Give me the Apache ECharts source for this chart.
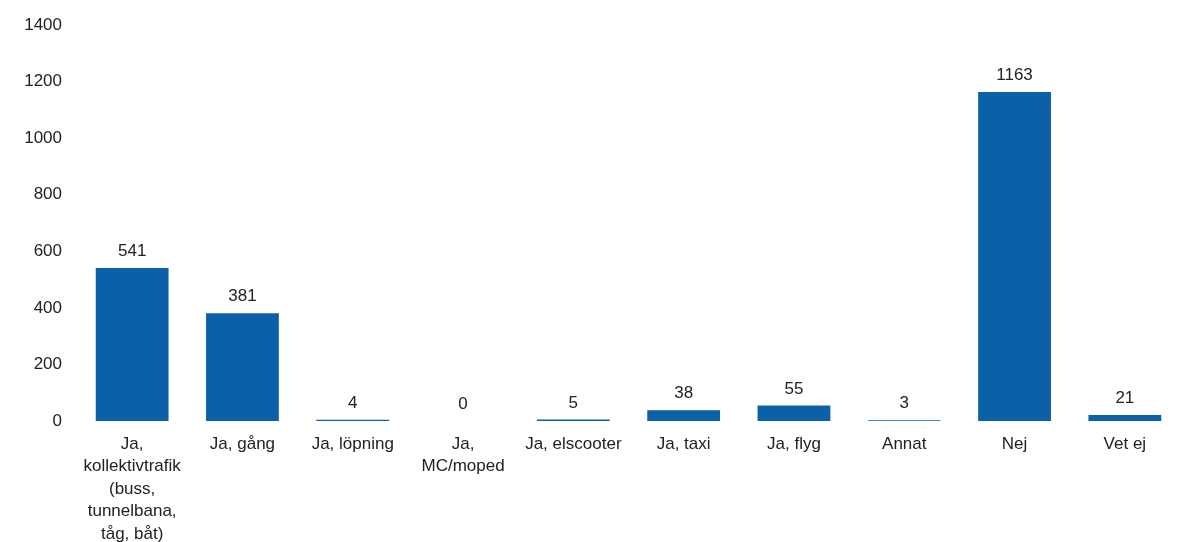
<!DOCTYPE html>
<html><head><meta charset="utf-8">
<script src="https://cdn.jsdelivr.net/npm/echarts@6/dist/echarts.min.js"></script>
<style>html,body{margin:0;padding:0;background:#fff}#c{width:1186px;height:542px}</style>
</head><body><div id="c"></div>
<script>
const categories = ["Ja,\nkollektivtrafik\n(buss,\ntunnelbana,\ntåg, båt)", "Ja, gång", "Ja, löpning", "Ja,\nMC/moped", "Ja, elscooter", "Ja, taxi", "Ja, flyg", "Annat", "Nej", "Vet ej"];
const values = [541, 381, 4, 0, 5, 38, 55, 3, 1163, 21];
const yTicks = {min: 0, max: 1400, interval: 200};
const FONT = 'Liberation Sans, Arial, sans-serif';
const chart = echarts.init(document.getElementById('c'));
chart.setOption({
  animation: false,
  grid: {left: 77, right: 6, top: 25, bottom: 121, containLabel: false, outerBoundsMode: 'none'},
  xAxis: {
    type: 'category', data: categories,
    axisLine: {show: false}, axisTick: {show: false},
    axisLabel: {interval: 0, margin: 12, fontFamily: FONT, fontSize: 17, color: '#222', lineHeight: 22.5}
  },
  yAxis: {
    type: 'value', min: yTicks.min, max: yTicks.max, interval: yTicks.interval,
    splitLine: {show: false}, axisLine: {show: false}, axisTick: {show: false},
    axisLabel: {margin: 15, fontFamily: FONT, fontSize: 17, color: '#222', formatter: v => String(v)}
  },
  series: [{
    type: 'bar', data: values, barWidth: '66%',
    itemStyle: {color: '#0b60a8'},
    label: {show: true, position: 'top', distance: 8, fontFamily: FONT, fontSize: 17, color: '#222'}
  }]
});
</script></body></html>
